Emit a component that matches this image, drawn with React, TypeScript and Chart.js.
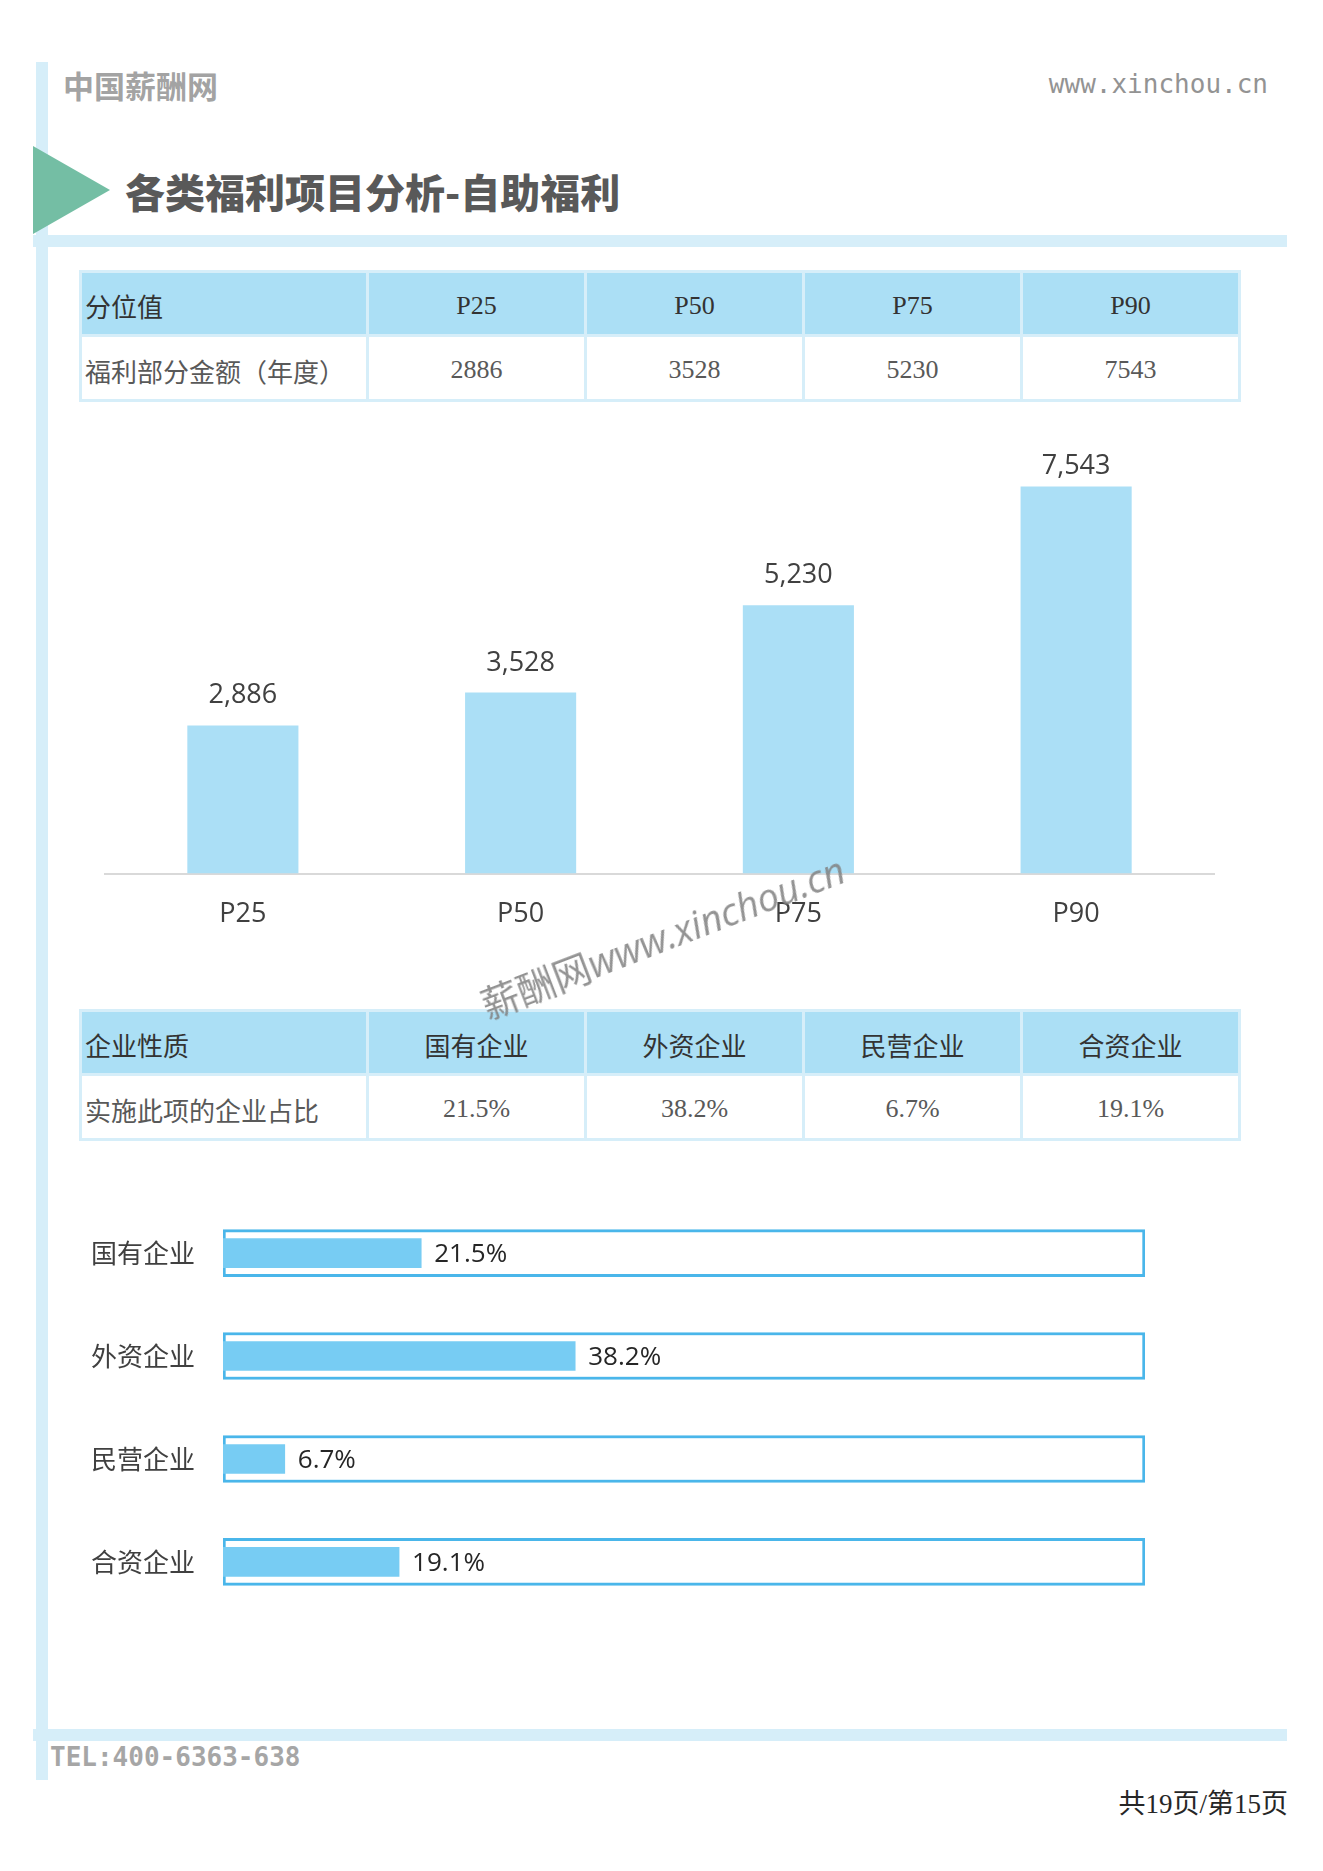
import React, { useEffect, useRef } from "react";
import { Chart, registerables } from "chart.js";

Chart.register(...registerables);

// ---------- data ----------
const percentileLabels = ["P25", "P50", "P75", "P90"];
const benefitAmounts = [2886, 3528, 5230, 7543];
const companyTypes = ["国有企业", "外资企业", "民营企业", "合资企业"];
const adoptionRates = [21.5, 38.2, 6.7, 19.1];
const trackMax = 100;

const table1Header = ["分位值", ...percentileLabels];
const table1Row = ["福利部分金额（年度）", ...benefitAmounts.map((v) => String(v))];
const table2Header = ["企业性质", ...companyTypes];
const table2Row = ["实施此项的企业占比", ...adoptionRates.map((v) => v.toFixed(1) + "%")];

const SANS = "'Open Sans', 'Noto Sans CJK SC', sans-serif";
const SERIF = "'Liberation Serif', 'Noto Sans CJK SC', serif";
const CJK = "'Noto Sans CJK SC', sans-serif";

const PALE = "#d6eef9";

function InfoTable({ top, header, row }: { top: number; header: string[]; row: string[] }) {
  const cell = (text: string, i: number, isHeader: boolean) => (
    <div
      key={(isHeader ? "h" : "r") + i}
      style={{
        background: isHeader ? "#abdff5" : "#ffffff",
        display: "flex",
        alignItems: "center",
        justifyContent: i === 0 ? "flex-start" : "center",
        paddingLeft: i === 0 ? 3 : 0,
        paddingTop: 4,
        boxSizing: "border-box",
        fontFamily: SERIF,
        fontSize: 26,
        color: isHeader ? "#333333" : "#595959",
        whiteSpace: "nowrap",
      }}
    >
      {text}
    </div>
  );
  return (
    <div
      style={{
        position: "absolute",
        left: 79,
        top,
        width: 1162,
        height: 132,
        boxSizing: "border-box",
        background: PALE,
        padding: 3,
        display: "grid",
        gridTemplateColumns: "284px repeat(4, 215px)",
        gridTemplateRows: "61px 62px",
        gap: 3,
      }}
    >
      {header.map((t, i) => cell(t, i, true))}
      {row.map((t, i) => cell(t, i, false))}
    </div>
  );
}

function AmountChart() {
  const ref = useRef<HTMLCanvasElement | null>(null);
  useEffect(() => {
    if (!ref.current) return;
    const labelPlugin = {
      id: "amountLabels",
      afterDatasetsDraw(chart: any) {
        const ctx = chart.ctx;
        const meta = chart.getDatasetMeta(0);
        const minY = chart.chartArea.top + 11;
        ctx.save();
        ctx.font = "27px 'Open Sans'";
        ctx.fillStyle = "#404040";
        ctx.textAlign = "center";
        ctx.textBaseline = "alphabetic";
        meta.data.forEach((el: any, i: number) => {
          const y = Math.max(el.y - 22, minY);
          ctx.fillText(benefitAmounts[i].toLocaleString("en-US"), el.x, y);
        });
        ctx.restore();
      },
    };
    const chart = new Chart(ref.current, {
      type: "bar",
      data: {
        labels: percentileLabels,
        datasets: [
          {
            data: benefitAmounts,
            backgroundColor: "#abdff6",
            categoryPercentage: 1,
            barPercentage: 0.4,
          },
        ],
      },
      options: {
        animation: false,
        responsive: false,
        maintainAspectRatio: false,
        layout: { padding: { top: 33, left: 0, right: 0, bottom: 0 } },
        plugins: { legend: { display: false }, tooltip: { enabled: false } },
        scales: {
          x: {
            grid: { display: false, drawTicks: false },
            border: { color: "#d9d9d9", width: 2 },
            ticks: { color: "#404040", font: { size: 27, family: "'Open Sans'" }, padding: 25 },
          },
          y: { display: false, min: 0, max: 8000 },
        },
      },
      plugins: [labelPlugin],
    } as any);
    return () => chart.destroy();
  }, []);
  return (
    <canvas
      ref={ref}
      width={1111}
      height={526}
      style={{ position: "absolute", left: 104, top: 430, width: 1111, height: 526 }}
    />
  );
}

function RateChart() {
  const ref = useRef<HTMLCanvasElement | null>(null);
  useEffect(() => {
    if (!ref.current) return;
    const labelPlugin = {
      id: "rateLabels",
      afterDatasetsDraw(chart: any) {
        const ctx = chart.ctx;
        const meta = chart.getDatasetMeta(0);
        ctx.save();
        ctx.font = "26px 'Open Sans'";
        ctx.fillStyle = "#262626";
        ctx.textAlign = "left";
        ctx.textBaseline = "middle";
        meta.data.forEach((el: any, i: number) => {
          ctx.fillText(adoptionRates[i].toFixed(1) + "%", el.x + 13, el.y + 2);
        });
        ctx.restore();
      },
    };
    const chart = new Chart(ref.current, {
      type: "bar",
      data: {
        labels: companyTypes,
        datasets: [
          {
            data: adoptionRates,
            backgroundColor: "#77ccf3",
            barThickness: 29,
            grouped: false,
            order: 1,
          },
          {
            data: companyTypes.map(() => trackMax),
            backgroundColor: "#ffffff",
            borderColor: "#4ab6ea",
            borderWidth: 3,
            borderSkipped: false,
            barThickness: 47,
            grouped: false,
            order: 2,
          },
        ],
      },
      options: {
        indexAxis: "y",
        animation: false,
        responsive: false,
        maintainAspectRatio: false,
        layout: { padding: { top: 0, right: 15, bottom: 0, left: 0 } },
        plugins: { legend: { display: false }, tooltip: { enabled: false } },
        scales: {
          x: { display: false, min: 0, max: trackMax },
          y: {
            grid: { display: false, drawTicks: false },
            border: { display: false },
            ticks: { color: "#404040", font: { size: 26, family: CJK }, padding: 28 },
            afterFit: (s: any) => {
              s.width = 163;
            },
          },
        },
      },
      plugins: [labelPlugin],
    } as any);
    return () => chart.destroy();
  }, []);
  return (
    <canvas
      ref={ref}
      width={1100}
      height={499}
      style={{ position: "absolute", left: 60, top: 1158, width: 1100, height: 499 }}
    />
  );
}

export default function App() {
  return (
    <div
      style={{
        position: "absolute",
        left: 0,
        top: 0,
        width: 1323,
        height: 1871,
        background: "#ffffff",
        overflow: "hidden",
      }}
    >
      {/* left vertical rail */}
      <div style={{ position: "absolute", left: 36, top: 62, width: 12, height: 1718, background: PALE }} />
      {/* top band */}
      <div style={{ position: "absolute", left: 33, top: 235, width: 1254, height: 12, background: PALE }} />
      {/* bottom band */}
      <div style={{ position: "absolute", left: 33, top: 1729, width: 1254, height: 12, background: PALE }} />
      {/* triangle */}
      <div
        style={{
          position: "absolute",
          left: 33,
          top: 146,
          width: 0,
          height: 0,
          borderTop: "44.5px solid transparent",
          borderBottom: "44.5px solid transparent",
          borderLeft: "77px solid #74bea4",
        }}
      />
      <div
        style={{
          position: "absolute",
          left: 63,
          top: 84,
          transform: "translateY(-50%)",
          fontFamily: CJK,
          fontWeight: 700,
          fontSize: 31,
          color: "#a3a3a3",
          whiteSpace: "nowrap",
        }}
      >
        中国薪酬网
      </div>
      <div
        style={{
          position: "absolute",
          right: 1323 - 1268,
          top: 84,
          transform: "translateY(-50%)",
          fontFamily: "'DejaVu Sans Mono', monospace",
          fontSize: 26,
          color: "#939393",
          whiteSpace: "nowrap",
        }}
      >
        www.xinchou.cn
      </div>
      <div
        style={{
          position: "absolute",
          left: 125,
          top: 191,
          transform: "translateY(-50%)",
          fontFamily: CJK,
          fontWeight: 900,
          fontSize: 40,
          color: "#595959",
          whiteSpace: "nowrap",
        }}
      >
        各类福利项目分析-自助福利
      </div>

      <InfoTable top={270} header={table1Header} row={table1Row} />
      <AmountChart />

      {/* watermark */}
      <div
        style={{
          position: "absolute",
          left: 662,
          top: 935,
          transform: "translate(-50%, -50%) rotate(-21deg)",
          fontFamily: SANS,
          fontSize: 38,
          color: "#808080",
          opacity: 0.85,
          whiteSpace: "nowrap",
          zIndex: 5,
        }}
      >
        薪酬网<span style={{ fontStyle: "italic" }}>www.xinchou.cn</span>
      </div>

      <InfoTable top={1009} header={table2Header} row={table2Row} />
      <RateChart />

      <div
        style={{
          position: "absolute",
          left: 50,
          top: 1757,
          transform: "translateY(-50%)",
          fontFamily: "'DejaVu Sans Mono', monospace",
          fontWeight: 700,
          fontSize: 26,
          color: "#a6a6a6",
          whiteSpace: "nowrap",
        }}
      >
        TEL:400-6363-638
      </div>
      <div
        style={{
          position: "absolute",
          right: 1323 - 1288,
          top: 1801,
          transform: "translateY(-50%)",
          fontFamily: SERIF,
          fontSize: 27,
          color: "#262626",
          whiteSpace: "nowrap",
        }}
      >
        共19页/第15页
      </div>
    </div>
  );
}
